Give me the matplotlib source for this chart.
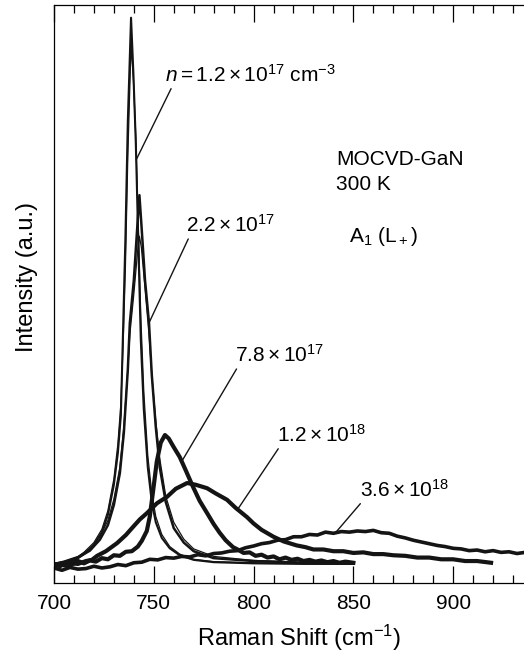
import numpy as np
import matplotlib
matplotlib.use("Agg")
import matplotlib.pyplot as plt
from matplotlib.ticker import MultipleLocator

plt.rcParams['font.family'] = ['Liberation Sans', 'DejaVu Sans']
plt.rcParams['mathtext.fontset'] = 'custom'
plt.rcParams['mathtext.rm'] = 'Liberation Sans'
plt.rcParams['mathtext.it'] = 'Liberation Sans:italic'
plt.rcParams['mathtext.bf'] = 'Liberation Sans:bold'

# A1(L+) Raman spectra of MOCVD GaN, 300 K
# n = 1.2e17 cm^-3 (measured + fit)
x1 = [700, 705, 710, 715, 720, 724, 727, 730, 732, 733.5, 734.7, 735.8, 737, 738.6,
      739.8, 741, 742.3, 743.5, 745, 747, 749, 751, 754, 758, 763, 770, 780, 800, 825, 850]
y1 = [3.0, 3.3, 3.8, 5.0, 6.6, 8.8, 11.8, 17.0, 22.5, 29, 45, 60, 80, 97.8,
      88, 76, 58, 42, 30, 20, 14, 10.5, 7.8, 6.0, 4.8, 4.0, 3.6, 3.4, 3.3, 3.3]
y1_fit = [3.1, 3.4, 4.0, 5.3, 7.0, 9.3, 12.5, 18.0, 24.0, 31, 42, 55, 74, 93,
          87, 77, 61, 46, 33, 22, 15.5, 11.5, 8.4, 6.3, 5.0, 4.1, 3.7, 3.5, 3.4, 3.3]

# n = 2.2e17 cm^-3
x2 = [700, 705, 712, 718, 723, 727, 730, 733, 735, 737, 738, 740, 741.8, 742.8,
      743.8, 745.6, 747.6, 749, 751, 753, 756, 760, 765, 770, 780, 800, 825, 850]
y2 = [3.3, 3.6, 4.4, 5.6, 7.5, 10, 13.5, 19, 26, 37, 45, 52.4, 62, 67.1,
      62, 52.4, 45, 36, 27, 20, 14, 9.5, 7.0, 5.5, 4.3, 3.8, 3.5, 3.4]
y2_fit = [3.4, 3.8, 4.6, 5.9, 8.0, 10.8, 14.5, 20, 27, 37, 43, 50, 57, 60,
          58, 51, 43, 36, 28, 21.5, 15, 10.5, 7.6, 5.9, 4.6, 3.9, 3.6, 3.5]

# n = 7.8e17 cm^-3
x3 = [700, 703, 706, 709, 712, 715, 718, 721, 724, 727, 730, 733, 736, 739, 742,
      744, 746.5, 748, 749.5, 751.5, 753.5, 755.6, 757.5, 760, 763, 766, 769.7, 773,
      776.7, 780, 783, 786, 789.7, 792, 795, 798, 801, 804, 807, 810, 813, 816, 819,
      822, 825, 828, 831, 834, 837, 840, 843, 846, 850]
y3 = [3.3, 2.9, 3.5, 3.2, 3.8, 3.4, 3.9, 3.7, 4.3, 4.1, 4.8, 4.7, 5.4, 5.5, 6.3,
      7.3, 9.0, 11.5, 15.5, 21, 24.3, 25.6, 25, 23.5, 21.8, 19.5, 16.6, 14.2,
      12.1, 10.2, 8.7, 7.4, 6.2, 5.8, 5.2, 5.3, 4.7, 4.9, 4.4, 4.6, 4.1, 4.4, 4.0,
      4.2, 3.8, 4.0, 3.7, 3.9, 3.6, 3.8, 3.5, 3.7, 3.5]

# n = 1.2e18 cm^-3
x4 = [700, 703, 706, 709, 712, 716, 719, 721.6, 726, 731.6, 736, 739.6, 743, 746.6,
      751.6, 756.6, 761, 766.7, 771, 776.7, 781, 786.7, 791, 796.7, 800, 804, 810,
      815, 821.6, 826, 830, 835, 840, 845, 850, 855, 860, 865, 870, 876, 882, 888,
      894, 900, 906, 912, 919]
y4 = [2.9, 3.2, 3.0, 3.4, 3.3, 3.8, 4.0, 4.7, 5.5, 6.9, 8.3, 9.7, 11.0, 12.1,
      13.8, 14.9, 16.3, 17.3, 17.0, 16.4, 15.5, 14.4, 13.0, 11.4, 10.3, 9.2, 8.0,
      7.2, 6.5, 6.2, 5.8, 5.8, 5.5, 5.5, 5.2, 5.3, 5.0, 5.0, 4.8, 4.7, 4.4, 4.4,
      4.1, 4.1, 3.8, 3.8, 3.5]

# n = 3.6e18 cm^-3
x5 = [700, 704, 708, 712, 716, 720, 724, 728, 732, 736, 740, 744, 748, 752, 756,
      760, 764, 768, 772, 776, 780, 784, 788, 792, 796, 800, 804, 808, 812, 816,
      820, 824, 828, 832, 836, 840, 844, 848, 852, 856, 860, 864, 868, 872, 876,
      880, 884, 888, 892, 896, 900, 904, 908, 912, 916, 920, 924, 928, 932, 936]
y5 = [2.6, 2.2, 2.7, 2.4, 2.5, 2.9, 2.6, 2.8, 3.2, 3.0, 3.5, 3.6, 4.1, 4.0, 4.4,
      4.3, 4.6, 4.5, 4.9, 4.7, 5.1, 5.2, 5.5, 5.6, 6.1, 6.4, 6.8, 7.0, 7.4, 7.5,
      8.0, 8.0, 8.4, 8.3, 8.8, 8.6, 8.9, 8.8, 9.0, 8.9, 9.1, 8.7, 8.6, 8.1, 7.8,
      7.4, 7.1, 6.8, 6.5, 6.3, 6.0, 5.9, 5.6, 5.7, 5.4, 5.6, 5.3, 5.4, 5.1, 5.3]

labels = [r'$n = 1.2\times10^{17}\ \mathrm{cm}^{-3}$', r'$2.2\times10^{17}$',
          r'$7.8\times10^{17}$', r'$1.2\times10^{18}$', r'$3.6\times10^{18}$']
label_xy = [(755.6, 87.9), (766.2, 61.9), (790.7, 39.4), (811.8, 25.6), (853.4, 16.1)]
leader_x = [741.2, 747.6, 764, 792, 841]

fig = plt.figure(figsize=(5.24, 6.54), dpi=100)
ax = fig.add_axes([54 / 524, 71 / 654, 470 / 524, 578 / 654])

c = '#141414'
ax.plot(x1, y1_fit, color=c, lw=0.9)
ax.plot(x2, y2_fit, color=c, lw=0.9)
ax.plot(x1, y1, color=c, lw=1.5)
ax.plot(x2, y2, color=c, lw=1.8)
ax.plot(x3, y3, color=c, lw=3.0)
ax.plot(x4, y4, color=c, lw=3.0)
ax.plot(x5, y5, color=c, lw=2.6)

series = [(x1, y1), (x2, y2), (x3, y3), (x4, y4), (x5, y5)]
for (sx, sy), lab, pos, lx in zip(series, labels, label_xy, leader_x):
    tip = (lx, np.interp(lx, sx, sy))
    ax.annotate(lab, xy=tip, xytext=pos, fontsize=15, ha='left', va='center',
                arrowprops=dict(arrowstyle='-', color=c, lw=1.0, shrinkA=0, shrinkB=0,
                                relpos=(0.05, 0.1)))

ax.text(841.4, 73.2, 'MOCVD-GaN', fontsize=15, ha='left', va='center')
ax.text(841.4, 68.9, '300 K', fontsize=15, ha='left', va='center')
ax.text(847.9, 59.9, r'A$_1$ (L$_+$)', fontsize=15, ha='left', va='center')

ax.set_xlim(700, 935.5)
ax.set_ylim(0, 100)
ax.xaxis.set_major_locator(MultipleLocator(50))
ax.xaxis.set_minor_locator(MultipleLocator(10))
ax.set_yticks([])
ax.tick_params(axis='x', which='both', direction='in', top=True, width=0.9, labelsize=15, pad=8)
ax.tick_params(axis='x', which='major', length=12)
ax.tick_params(axis='x', which='minor', length=5.5)
ax.spines['right'].set_visible(False)
for s in ['left', 'top', 'bottom']:
    ax.spines[s].set_linewidth(0.9)

ax.set_xlabel(r'Raman Shift (cm$^{-1}$)', fontsize=17)
ax.xaxis.set_label_coords(0.521, -0.069)
ax.set_ylabel('Intensity (a.u.)', fontsize=17)
ax.yaxis.set_label_coords(-0.034, 0.529)

fig.savefig('out.png', dpi=100)
